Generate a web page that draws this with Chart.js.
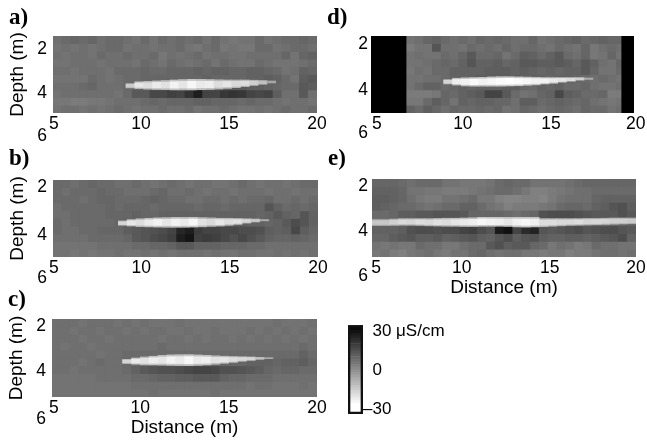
<!DOCTYPE html>
<html><head><meta charset="utf-8">
<script src="https://cdn.jsdelivr.net/npm/chart.js@4"></script>
<style>html,body{margin:0;padding:0;background:#fff;width:647px;height:440px;overflow:hidden}canvas{position:absolute}</style>
</head><body>
<script>
const xTicks=[5,10,15,20];
const yLabels=["2","4","6"];
const gridA=[
[4,5,6,5,6,4,5,5,4,3,5,3,5,4,5,4,5,3,5,3,2,3,3,5,3,4,5,5,6,5],
[3,4,3,4,3,4,5,5,3,4,4,3,4,4,5,3,2,4,5,2,3,2,2,5,5,3,4,5,5,4],
[4,3,4,4,3,5,4,4,5,4,4,5,2,4,3,4,5,3,4,4,3,3,4,4,4,4,6,3,6,7],
[3,3,4,4,4,3,4,4,4,3,5,4,3,5,4,3,4,5,3,5,4,3,3,5,4,3,3,3,4,5],
[4,4,3,4,4,4,3,5,5,5,6,5,5,6,6,6,7,6,7,7,6,6,7,7,6,5,3,4,7,6],
[3,3,3,3,5,4,3,4,5,5,6,6,6,6,6,6,6,7,6,6,6,6,7,7,8,7,5,3,8,9],
[4,4,4,5,6,4,4,4,5,6,7,7,7,8,8,8,9,9,8,8,9,9,8,8,7,6,5,5,9,8],
[3,4,4,4,4,4,4,3,5,9,9,13,13,15,14,18,23,14,14,17,18,17,14,13,14,8,4,4,9,4],
[2,2,1,1,2,2,3,4,4,4,5,6,5,6,6,6,7,7,6,6,6,5,6,5,5,4,3,4,4,3],
[3,4,4,3,4,3,4,5,4,3,4,4,5,4,4,5,3,4,4,5,4,3,3,4,3,4,5,4,4,5]];
const gridB=[
[5,5,4,5,6,5,5,4,4,5,4,3,4,5,4,3,4,4,3,3,4,5,4,3,4,4,3,4,5,5],
[5,4,5,5,5,6,5,5,4,4,4,5,6,4,4,5,4,3,4,4,3,4,4,4,3,4,4,3,4,4],
[5,5,5,4,5,6,6,5,5,5,6,7,6,5,5,4,4,5,5,4,5,4,5,5,6,4,4,5,4,5],
[4,5,5,5,5,5,6,5,6,6,6,5,6,6,6,6,5,6,6,5,6,6,6,6,10,7,5,6,5,6],
[4,4,5,5,5,5,6,6,6,7,6,6,7,7,7,7,7,7,7,7,7,7,7,6,7,9,7,6,10,7],
[5,4,5,5,5,5,5,6,6,7,7,7,7,8,8,8,8,8,7,7,8,8,7,7,6,7,9,12,10,7],
[5,4,4,5,5,6,6,6,8,9,10,11,12,14,21,23,16,14,14,13,13,12,12,11,8,7,8,13,8,6],
[4,4,4,4,5,5,5,5,6,9,10,12,13,15,23,25,15,16,15,13,11,13,11,9,7,6,6,7,6,5],
[3,3,3,3,3,4,4,4,4,5,5,6,6,7,9,9,7,7,7,6,6,6,5,5,4,4,4,4,4,4],
[3,3,2,3,2,3,3,4,3,3,4,3,4,3,4,4,4,3,4,3,3,4,4,3,3,4,3,4,3,4]];
const gridC=[
[4,4,4,3,4,4,4,3,4,3,4,3,3,3,4,3,3,3,3,3,3,3,3,3,3,4,3,3,3,4],
[4,4,3,4,4,3,4,4,3,4,3,4,4,3,3,4,3,3,4,3,3,3,4,3,4,3,4,3,4,3],
[4,4,4,3,4,4,3,4,4,4,4,4,3,4,4,3,4,3,4,4,3,4,3,4,3,4,3,4,3,4],
[4,3,4,4,3,4,4,4,4,4,4,4,5,4,4,4,4,4,4,4,4,4,4,4,4,4,4,4,5,4],
[4,4,4,4,4,3,4,4,5,5,5,5,5,5,5,5,5,5,5,5,5,5,5,5,5,5,5,5,7,5],
[4,4,4,3,4,5,4,4,5,5,6,6,6,6,6,6,6,6,6,6,6,6,7,7,7,6,7,7,8,6],
[4,4,3,4,4,4,4,4,5,7,9,10,11,11,12,13,14,14,13,11,11,10,9,8,6,5,6,6,5,5],
[3,3,3,3,3,4,4,4,4,5,5,6,7,7,8,8,9,9,9,7,6,6,5,5,5,4,4,4,4,4],
[3,3,3,3,3,3,3,3,3,4,4,4,4,4,4,4,4,4,4,4,4,4,3,4,4,3,3,3,4,3],
[3,3,3,3,3,3,3,3,3,3,3,4,3,3,3,3,3,3,4,3,3,3,3,3,3,3,3,3,3,3]];
const gridD=[
[6,6,6,6,3,4,6,7,5,4,5,4,6,5,6,5,4,4,6,3,4,5,6,7,5,6,7,6,6,6],
[5,5,5,5,1,3,3,10,4,4,3,5,4,5,4,6,4,5,5,4,3,5,4,3,6,2,4,5,4,4],
[5,5,5,5,3,4,3,3,5,4,6,9,5,5,6,3,5,8,7,5,7,9,5,4,6,2,3,6,3,5],
[6,6,6,6,3,3,4,5,6,5,7,10,7,7,8,6,7,9,9,8,8,9,8,6,9,7,4,3,6,4],
[5,5,5,5,2,4,3,5,5,7,7,7,7,8,8,8,7,8,7,6,7,6,7,7,9,6,3,3,5,4],
[5,5,5,5,3,3,4,4,5,7,7,7,8,8,8,8,8,7,7,7,6,7,7,6,5,4,5,4,3,4],
[5,5,5,5,3,5,7,7,5,6,7,6,7,7,7,8,8,6,5,7,6,7,5,5,6,4,3,3,4,3],
[6,6,6,6,1,1,1,2,6,5,7,8,9,14,14,9,5,3,4,6,7,13,8,7,5,5,6,1,1,1],
[4,4,4,4,2,2,5,8,6,3,7,6,7,7,6,6,4,8,8,5,6,7,6,5,6,4,3,2,3,2],
[4,4,4,4,7,5,8,6,4,6,5,5,6,5,6,3,4,6,5,4,5,6,5,4,6,5,5,3,4,5]];
const gridE=[
[6,6,6,5,4,5,5,5,3,3,2,2,2,3,5,6,5,5,3,3,3,3,4,5,6,6,6,6,6,6],
[7,7,7,6,3,3,2,2,1,1,1,2,3,4,5,5,4,2,0,0,1,2,3,4,4,5,5,5,5,5],
[8,8,7,6,4,2,1,1,3,3,4,5,2,2,0,-1,-1,0,0,-1,1,3,4,4,4,6,7,7,7,7],
[8,7,6,5,5,4,3,4,5,5,7,7,5,3,2,0,1,1,1,2,3,5,6,6,5,7,8,10,11,8],
[5,5,6,8,8,9,9,10,10,10,9,6,6,6,6,5,4,5,6,11,12,12,12,11,10,9,9,9,11,9],
[4,4,4,4,4,4,4,5,5,5,5,5,5,5,5,5,5,5,5,5,6,6,6,6,5,5,5,6,7,7],
[7,7,7,8,11,12,12,11,12,12,14,15,12,10,24,26,14,20,22,10,9,10,11,12,10,11,12,12,10,9],
[6,6,8,9,10,8,8,9,7,8,9,10,8,7,10,12,8,10,11,8,7,7,8,8,7,8,9,10,12,7],
[3,2,3,2,2,5,4,4,2,2,4,5,5,9,11,8,9,9,6,5,2,4,3,1,2,5,4,4,3,3],
[2,3,1,0,2,3,4,2,1,3,3,5,6,4,3,4,4,2,2,1,2,2,0,1,1,3,4,4,3,4]];
const lensAX=[9.4,9.9,10.4,10.9,11.4,11.9,12.4,12.9,13.4,13.9,14.4,14.9,15.4,15.9,16.4,16.9,17.4];
const lensATop=[3.66,3.58,3.56,3.54,3.52,3.50,3.48,3.47,3.47,3.48,3.49,3.50,3.50,3.50,3.51,3.52,3.54];
const lensABot=[3.86,3.89,3.92,3.93,3.94,3.95,3.95,3.95,3.94,3.93,3.91,3.88,3.85,3.80,3.75,3.70,3.64];
const lensATone=[-18,-24,-22,-25,-23,-27,-24,-28,-25,-26,-22,-24,-21,-22,-19,-15,-9];
const lensBX=[8.95,9.45,9.95,10.45,10.95,11.45,11.95,12.45,12.95,13.45,13.95,14.45,14.95,15.45,15.95,16.45,16.95];
const lensBTop=[3.36,3.30,3.26,3.24,3.22,3.21,3.20,3.20,3.20,3.21,3.22,3.24,3.24,3.25,3.26,3.27,3.30];
const lensBBot=[3.56,3.59,3.62,3.63,3.64,3.65,3.65,3.65,3.64,3.63,3.61,3.59,3.56,3.52,3.46,3.41,3.36];
const lensBTone=[-20,-24,-22,-25,-27,-24,-27,-25,-28,-23,-21,-24,-22,-23,-20,-17,-11];
const lensCX=[9.25,9.75,10.25,10.75,11.25,11.75,12.25,12.75,13.25,13.75,14.25,14.75,15.25,15.75,16.25,16.75,17.25];
const lensCTop=[3.31,3.25,3.20,3.17,3.13,3.11,3.10,3.10,3.11,3.13,3.15,3.17,3.18,3.19,3.20,3.22,3.24];
const lensCBot=[3.50,3.53,3.56,3.56,3.57,3.58,3.59,3.59,3.58,3.56,3.53,3.49,3.45,3.40,3.36,3.31,3.28];
const lensCTone=[-20,-25,-23,-26,-24,-27,-25,-28,-25,-26,-23,-24,-22,-21,-20,-16,-11];
const lensDX=[9.4,9.9,10.4,10.9,11.4,11.9,12.4,12.9,13.4,13.9,14.4,14.9,15.4,15.9,16.4,16.9,17.4];
const lensDTop=[3.48,3.42,3.40,3.39,3.38,3.36,3.35,3.35,3.36,3.37,3.38,3.39,3.39,3.39,3.39,3.39,3.41];
const lensDBot=[3.68,3.73,3.77,3.78,3.78,3.78,3.78,3.77,3.76,3.74,3.72,3.68,3.65,3.60,3.56,3.51,3.47];
const lensDTone=[-20,-26,-27,-29,-27,-28,-29,-30,-29,-28,-27,-27,-25,-24,-22,-19,-11];
const lensEX=[5.25,5.75,6.25,6.75,7.25,7.75,8.25,8.75,9.25,9.75,10.25,10.75,11.25,11.75,12.25,12.75,13.25,13.75,14.25,14.75,15.25,15.75,16.25,16.75,17.25,17.75,18.25,18.75,19.25,19.75];
const lensETop=[3.32,3.32,3.30,3.28,3.28,3.28,3.28,3.27,3.26,3.26,3.25,3.24,3.22,3.22,3.22,3.22,3.22,3.22,3.22,3.28,3.28,3.28,3.28,3.28,3.27,3.27,3.26,3.25,3.25,3.25];
const lensEBot=[3.59,3.59,3.58,3.57,3.57,3.58,3.60,3.61,3.62,3.62,3.63,3.63,3.62,3.62,3.62,3.63,3.65,3.66,3.65,3.64,3.62,3.60,3.58,3.57,3.56,3.55,3.54,3.53,3.52,3.51];
const lensETone=[-17,-17,-19,-21,-20,-22,-21,-23,-22,-24,-25,-26,-28,-27,-26,-24,-27,-28,-26,-22,-22,-21,-21,-22,-20,-21,-20,-19,-19,-18];
const barLevels=[30,28,26,24,22,20,18,16,14,12,10,8,6,4,2,0,-2,-4,-6,-8,-10,-12,-14,-16,-18,-20,-22,-24,-26,-28,-30,-30,-30,-30];
const barLabels=["  30 μS/cm","  0","–30"];
const barTicks=[30,0,-30];

const tone=v=>{const g=Math.max(0,Math.min(255,Math.round(255*(30-v)/60)));return `rgb(${g},${g},${g})`;};
const W=[264,265,265,263,264];
const rowH=.35,colW=.5,yMin=1.5,yMax=5;
function gridSets(grid,pm){
  return grid.map((row,r)=>({data:row.map((v,c)=>({x:5+colW*(c+.5),y:[yMin+rowH*r,yMin+rowH*(r+1)]})),
    backgroundColor:row.map(tone),barThickness:colW*pm}));
}
function lensSets(X,T,B,V,pm){
  const core={data:X.map((x,i)=>{const t=(B[i]-T[i])*.18;return {x,y:[T[i]+t,B[i]-t]};}),backgroundColor:V.map(tone),barThickness:colW*pm};
  const halo={data:X.map((x,i)=>({x,y:[T[i],B[i]]})),backgroundColor:V.map(v=>tone(v*.6)),barThickness:colW*pm};
  return [core,halo];
}
const blur={id:'blur',afterDatasetsDraw(ch){
  const a=ch.chartArea,c=ch.ctx;c.save();c.beginPath();c.rect(a.left,a.top,a.width,a.height);c.clip();
  c.filter='blur(0.7px)';c.drawImage(ch.canvas,0,0,ch.canvas.width,ch.canvas.height);c.restore();}};
function mk(left,top,w,h){const e=document.createElement('canvas');e.width=w;e.height=h;e.style.left=left+'px';e.style.top=top+'px';document.body.appendChild(e);return e;}

function panel(p){
  const gap=p.gap,pm=p.w/15,yw=44,rp=14,th=28;
  const e=mk(p.x-yw,p.y-th-gap,yw+p.w+rp,th+gap+p.h+p.xh);
  let sets=[...lensSets(p.lx,p.lt,p.lb,p.lv,pm)];
  if(p.black) p.black.forEach(b=>sets.push({data:[{x:(b[0]+b[1])/2,y:[yMin,yMax]}],backgroundColor:'#000',barThickness:(b[1]-b[0])*pm}));
  sets=sets.concat(gridSets(p.grid,pm));
  new Chart(e,{type:'bar',data:{datasets:sets},plugins:[blur],options:{
    responsive:false,animation:false,events:[],layout:{padding:{right:rp}},
    datasets:{bar:{grouped:false,borderWidth:0}},
    plugins:{legend:{display:false},tooltip:{enabled:false},
      title:{display:true,text:p.name,align:'start',color:'#000',padding:{top:0,bottom:gap},
        font:{family:'"Liberation Serif"',size:23,weight:'bold',lineHeight:th/23}}},
    scales:{
      x:{type:'linear',min:5,max:20,offset:false,grid:{display:false,drawTicks:false},border:{display:false},
        afterBuildTicks:s=>{s.ticks=p.xAt.map(value=>({value}));},
        afterFit:s=>{s.height=p.xh;},
        ticks:{autoSkip:false,maxRotation:0,padding:1,color:'#000',font:{family:'"Liberation Sans"',size:17.5},
          callback:(v,i)=>String(xTicks[i])},
        title:{display:!!p.dist,text:'Distance (m)',color:'#000',padding:0,font:{family:'"Liberation Sans"',size:19}}},
      y:{reverse:true,min:yMin,max:yMax,grid:{display:false,drawTicks:false},border:{display:false},
        afterBuildTicks:s=>{s.ticks=p.yAt.map(value=>({value}));},
        afterFit:s=>{s.width=yw;},
        ticks:{autoSkip:false,padding:p.tp,color:'#000',font:{family:'"Liberation Sans"',size:17.5},
          callback:(v,i)=>yLabels[i]},
        title:{display:!!p.depth,text:'Depth (m)',color:'#000',padding:{top:-3,bottom:0},font:{family:'"Liberation Sans"',size:19}}}
    }}});
}
panel({name:'a)',x:53,y:36,w:W[0],h:77,gap:4,xh:32,grid:gridA,lx:lensAX,lt:lensATop,lb:lensABot,lv:lensATone,xAt:[5.05,10,15,20],yAt:[2.09,4.09,6.05],tp:6,depth:1});
panel({name:'b)',x:53,y:180,w:W[1],h:77,gap:7,xh:32,grid:gridB,lx:lensBX,lt:lensBTop,lb:lensBBot,lv:lensBTone,xAt:[5.05,10,15,20],yAt:[1.82,4.0,5.95],tp:6,depth:1});
panel({name:'c)',x:52,y:319,w:W[2],h:78,gap:5,xh:42,grid:gridC,lx:lensCX,lt:lensCTop,lb:lensCBot,lv:lensCTone,xAt:[5.1,10,15,20],yAt:[1.82,3.82,6.0],tp:6,depth:1,dist:1});
panel({name:'d)',x:371,y:36,w:W[3],h:77,gap:4,xh:32,grid:gridD,lx:lensDX,lt:lensDTop,lb:lensDBot,lv:lensDTone,xAt:[5.34,10.24,15.26,20.1],yAt:[1.86,3.95,5.91],tp:3,black:[[5,7],[19.3,20]]});
panel({name:'e)',x:372,y:179,w:W[4],h:78,gap:6,xh:42,grid:gridE,lx:lensEX,lt:lensETop,lb:lensEBot,lv:lensETone,xAt:[5.23,10.1,15.1,20],yAt:[1.82,3.86,5.86],tp:4,dist:1});

// colour bar
(function(){
  const e=mk(346,315,110,110),hi=34.5,lo=-34,n=barLevels.length,st=(hi-lo)/n;
  const cells={data:barLevels.map((v,i)=>({x:.5,y:[hi-st*i,hi-st*(i+1)]})),backgroundColor:barLevels.map(tone),barThickness:15};
  const frame={data:[{x:.5,y:[lo,hi]}],backgroundColor:'rgba(0,0,0,0)',borderColor:'#111',borderWidth:2,borderSkipped:false,barThickness:15};
  new Chart(e,{type:'bar',data:{datasets:[frame,cells]},options:{
    responsive:false,animation:false,events:[],layout:{padding:{left:2,top:10,bottom:11}},
    datasets:{bar:{grouped:false}},
    plugins:{legend:{display:false},tooltip:{enabled:false}},
    scales:{
      x:{type:'linear',min:0,max:1,display:false},
      y:{position:'right',min:lo,max:hi,grid:{display:false,drawTicks:false},border:{display:false},
        afterBuildTicks:s=>{s.ticks=barTicks.map(value=>({value}));},
        afterFit:s=>{s.width=93;},
        ticks:{autoSkip:false,padding:0,crossAlign:'near',color:'#000',font:{family:'"Liberation Sans"',size:17},
          callback:(v,i)=>barLabels[i]}}
    }}});
})();
</script>
</body></html>
